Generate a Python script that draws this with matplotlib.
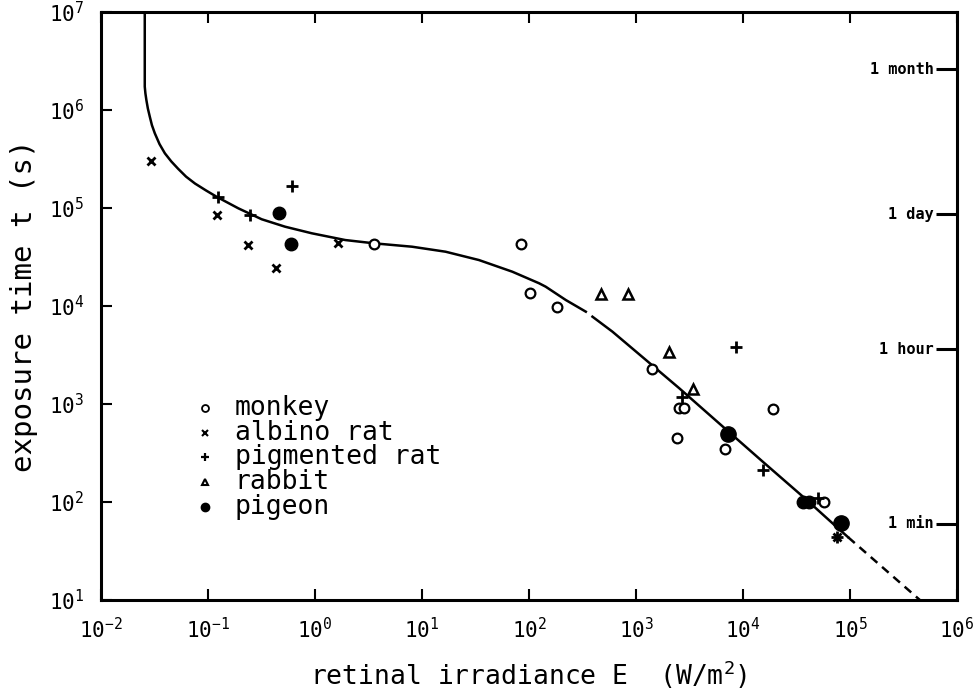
import numpy as np
import matplotlib
matplotlib.use("Agg")
import matplotlib.pyplot as plt
import matplotlib.transforms as mtransforms
from matplotlib.ticker import FixedLocator, NullLocator

plt.rcParams['font.family'] = ['DejaVu Sans Mono']
plt.rcParams['mathtext.fontset'] = 'custom'
plt.rcParams['mathtext.rm'] = 'DejaVu Sans Mono'
plt.rcParams['mathtext.it'] = 'DejaVu Sans Mono'

# threshold curve (log10 E, log10 t)
curve_logE = [-1.591, -1.591, -1.591, -1.585, -1.576, -1.562, -1.544, -1.524,
              -1.497, -1.453, -1.403, -1.343, -1.279, -1.205, -1.122, -1.020,
              -0.920, -0.717, -0.498, -0.279, -0.030, 0.283, 0.548,
              0.907, 1.220, 1.532, 1.844, 2.094, 2.156, 2.344, 2.531]
curve_logt = [7.0, 6.510, 6.238, 6.170, 6.102, 6.015, 5.932, 5.845,
              5.762, 5.652, 5.558, 5.475, 5.400, 5.320, 5.250, 5.180,
              5.115, 4.997, 4.885, 4.809, 4.742, 4.673, 4.640,
              4.605, 4.554, 4.469, 4.350, 4.232, 4.197, 4.061, 3.942]
curve2_logE = [2.593, 2.780, 3.093, 3.405, 3.842, 4.186, 4.586, 4.872, 4.983]
curve2_logt = [3.891, 3.738, 3.449, 3.160, 2.740, 2.410, 2.030, 1.748, 1.640]
dash_logE = [4.983, 5.653]
dash_logt = [1.640, 1.0]

# data points (E in W/m2, t in s)
monkey_E = [3.53, 83.5, 102, 182, 1410, 2506, 2793, 2430, 6860, 7200, 1.9e4, 5.7e4]
monkey_t = [4.27e4, 4.3e4, 1.37e4, 9.8e3, 2.3e3, 900, 900, 453, 345, 500, 889, 99]

albino_E = [0.0294, 0.122, 0.238, 0.435, 1.63, 7.5e4]
albino_t = [3.0e5, 8.5e4, 4.2e4, 2.45e4, 4.4e4, 44]

pigmented_E = [0.125, 0.247, 0.605, 2670, 8630, 1.53e4, 5.0e4, 7.5e4]
pigmented_t = [1.29e5, 8.5e4, 1.69e5, 1190, 3850, 212, 109, 44]

rabbit_E = [470, 846, 2050, 3440]
rabbit_t = [1.32e4, 1.32e4, 3400, 1420]

pigeon_E = [0.463, 0.593, 3.6e4, 4.1e4]
pigeon_t = [8.8e4, 4.3e4, 99, 99]
pigeon_big_E = [7200, 8.3e4]
pigeon_big_t = [500, 61]

xtick_vals = [1e-2, 1e-1, 1e0, 1e1, 1e2, 1e3, 1e4, 1e5, 1e6]
xtick_labels = [r'$10^{-2}$', r'$10^{-1}$', r'$10^{0}$', r'$10^{1}$', r'$10^{2}$',
                r'$10^{3}$', r'$10^{4}$', r'$10^{5}$', r'$10^{6}$']
ytick_vals = [1e1, 1e2, 1e3, 1e4, 1e5, 1e6, 1e7]
ytick_labels = [r'$10^{1}$', r'$10^{2}$', r'$10^{3}$', r'$10^{4}$', r'$10^{5}$',
                r'$10^{6}$', r'$10^{7}$']

time_vals = [60, 3600, 86400, 2.6e6]
time_labels = ['1 min', '1 hour', '1 day', '1 month']

legend_names = ['monkey', 'albino rat', 'pigmented rat', 'rabbit', 'pigeon']

fig = plt.figure(figsize=(9.79, 6.95), dpi=100)
ax = fig.add_axes([101 / 979, 1 - 600 / 695, 856 / 979, 588 / 695])
ax.set_xscale('log')
ax.set_yscale('log')
ax.set_xlim(1e-2, 1e6)
ax.set_ylim(1e1, 1e7)

lw = 1.8
ax.plot(10 ** np.array(curve_logE), 10 ** np.array(curve_logt), color='black', lw=lw,
        solid_joinstyle='round')
ax.plot(10 ** np.array(curve2_logE), 10 ** np.array(curve2_logt), color='black', lw=lw,
        solid_joinstyle='round')
ax.plot(10 ** np.array(dash_logE), 10 ** np.array(dash_logt), color='black', lw=lw,
        dashes=(3.5, 2.5))

ax.plot(monkey_E, monkey_t, 'o', ms=7, mfc='white', mec='black', mew=1.6, ls='none')
ax.plot(albino_E, albino_t, 'x', ms=6, color='black', mew=2, ls='none')
ax.plot(pigmented_E, pigmented_t, '+', ms=8, color='black', mew=2, ls='none')
ax.plot(rabbit_E, rabbit_t, '^', ms=7, mfc='white', mec='black', mew=1.8, ls='none')
ax.plot(pigeon_E, pigeon_t, 'o', ms=9, color='black', ls='none')
ax.plot(pigeon_big_E, pigeon_big_t, 'o', ms=11, color='black', ls='none')

# ticks
ax.xaxis.set_major_locator(FixedLocator(xtick_vals))
ax.set_xticklabels(xtick_labels)
ax.yaxis.set_major_locator(FixedLocator(ytick_vals))
ax.set_yticklabels(ytick_labels)
ax.xaxis.set_minor_locator(NullLocator())
ax.yaxis.set_minor_locator(NullLocator())
ax.tick_params(axis='both', which='major', direction='in', length=8, width=1.5,
               top=True, right=True, labelsize=15, pad=12)
for sp in ax.spines.values():
    sp.set_linewidth(2.2)

# time markers on the right axis
ax2 = ax.twinx()
ax2.set_yscale('log')
ax2.set_ylim(1e1, 1e7)
ax2.yaxis.set_major_locator(FixedLocator(time_vals))
ax2.yaxis.set_minor_locator(NullLocator())
ax2.tick_params(axis='y', direction='in', length=15, width=2.2, labelright=False)
for sp in ax2.spines.values():
    sp.set_visible(False)
trans = mtransforms.blended_transform_factory(ax.transAxes, ax.transData)
for v, lab in zip(time_vals, time_labels):
    ax.text(0.973, v, lab, transform=trans, ha='right', va='center',
            fontsize=11, fontweight='bold')

ax.set_xlabel(r'retinal irradiance E  (W/m$^{2}$)', fontsize=19, labelpad=12)
ax.set_ylabel('exposure time t (s)', fontsize=21, labelpad=8)

# legend drawn by hand, as in the figure
leg_style = [dict(marker='o', ms=5, mfc='white', mec='black', mew=1.3),
             dict(marker='x', ms=4.5, color='black', mew=1.5),
             dict(marker='+', ms=6, color='black', mew=1.6),
             dict(marker='^', ms=5, mfc='white', mec='black', mew=1.5),
             dict(marker='o', ms=6, color='black')]
y0 = (600 - 408) / 588
step = 24.7 / 588
for i, (name, st) in enumerate(zip(legend_names, leg_style)):
    yy = y0 - i * step
    ax.plot([0.1215], [yy], transform=ax.transAxes, ls='none', **st)
    ax.text(0.156, yy, name, transform=ax.transAxes, ha='left', va='center', fontsize=19)

fig.savefig('out.png', dpi=100)
